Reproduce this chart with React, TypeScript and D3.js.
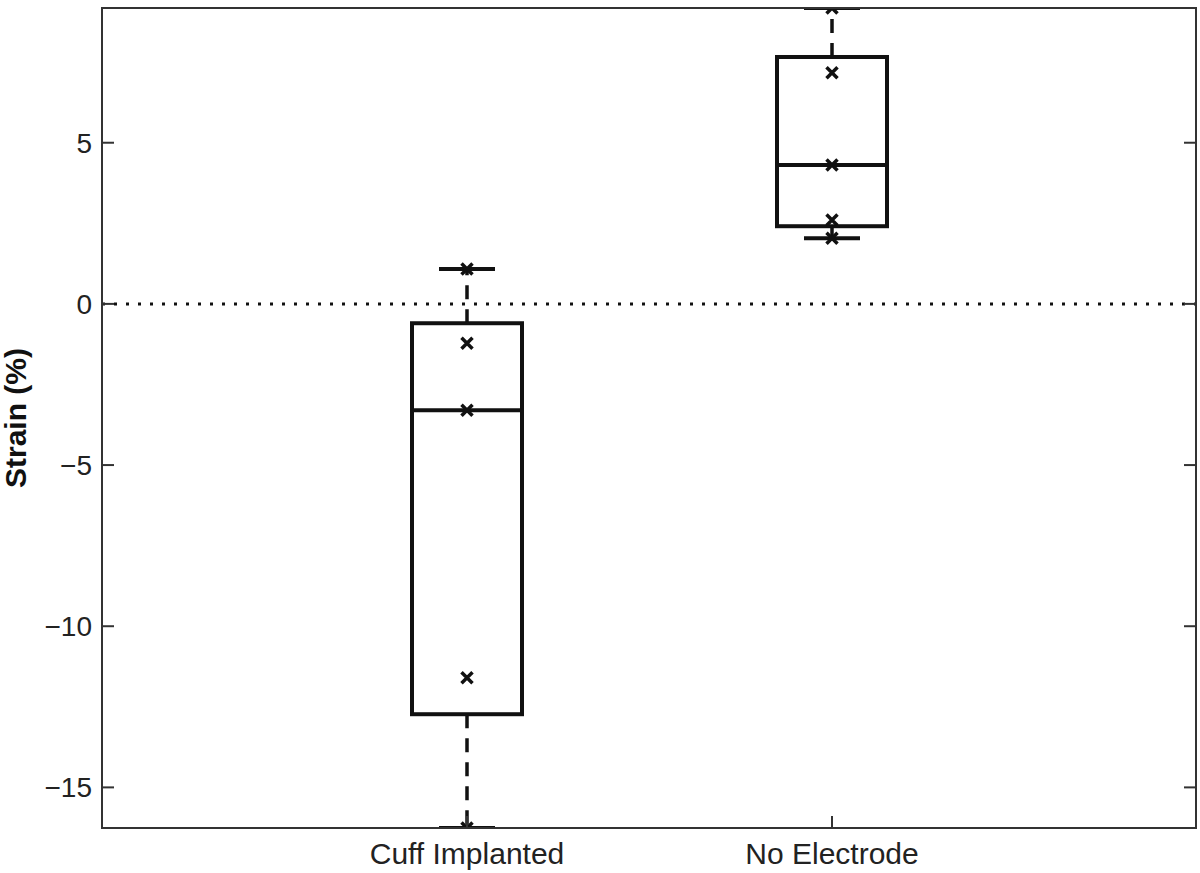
import React from "react";
import * as d3 from "d3";

const categories = ["Cuff Implanted", "No Electrode"];
const q1 = [-12.73, 2.41];
const medians = [-3.3, 4.31];
const q3 = [-0.6, 7.66];
const whiskerLow = [-16.26, 2.04];
const whiskerHigh = [1.08, 9.18];
const cuffPoints = [1.08, -1.22, -3.3, -11.6, -16.26];
const noElectrodePoints = [9.18, 7.17, 4.31, 2.6, 2.04];
const yTicks = [-15, -10, -5, 0, 5];

const W = 1200;
const H = 873;
const left = 102;
const right = 1196;
const top = 8;
const bottom = 828;

export default function App() {
  const y = d3.scaleLinear().domain([-16.26, 9.18]).range([bottom, top]);
  const pointsByCat = [cuffPoints, noElectrodePoints];
  const boxHalf = 55;
  const capHalf = 28;
  const font = "'Liberation Sans', Arial, sans-serif";
  const xPos = [467, 832];
  return (
    <svg width={W} height={H} style={{ position: "absolute", left: 0, top: 0, background: "#fff" }}>
      <defs>
        <clipPath id="plot">
          <rect x={left} y={top} width={right - left} height={bottom - top} />
        </clipPath>
      </defs>
      <line x1={left} x2={right} y1={y(0)} y2={y(0)} stroke="#111" strokeWidth={3} strokeDasharray="3,9" />
      <g clipPath="url(#plot)">
        {categories.map((c, i) => {
          const cx = xPos[i];
          return (
            <g key={c}>
              <line x1={cx} x2={cx} y1={y(q3[i])} y2={y(whiskerHigh[i])} stroke="#111" strokeWidth={3.5} strokeDasharray="14,10" />
              <line x1={cx} x2={cx} y1={y(q1[i])} y2={y(whiskerLow[i])} stroke="#111" strokeWidth={3.5} strokeDasharray="14,10" />
              <line x1={cx - capHalf} x2={cx + capHalf} y1={y(whiskerHigh[i])} y2={y(whiskerHigh[i])} stroke="#111" strokeWidth={4} />
              <line x1={cx - capHalf} x2={cx + capHalf} y1={y(whiskerLow[i])} y2={y(whiskerLow[i])} stroke="#111" strokeWidth={4} />
              <rect x={cx - boxHalf} y={y(q3[i])} width={boxHalf * 2} height={y(q1[i]) - y(q3[i])} fill="none" stroke="#111" strokeWidth={4} />
              <line x1={cx - boxHalf} x2={cx + boxHalf} y1={y(medians[i])} y2={y(medians[i])} stroke="#111" strokeWidth={4} />
              {pointsByCat[i].map((v, j) => (
                <path key={j} d={`M${cx - 5.5},${y(v) - 5.5}L${cx + 5.5},${y(v) + 5.5}M${cx - 5.5},${y(v) + 5.5}L${cx + 5.5},${y(v) - 5.5}`} stroke="#111" strokeWidth={3.5} />
              ))}
            </g>
          );
        })}
      </g>
      <rect x={left} y={top} width={right - left} height={bottom - top} fill="none" stroke="#333" strokeWidth={2} />
      {yTicks.map((t) => (
        <g key={t}>
          <line x1={left} x2={left + 12} y1={y(t)} y2={y(t)} stroke="#333" strokeWidth={2} />
          <line x1={right} x2={right - 12} y1={y(t)} y2={y(t)} stroke="#333" strokeWidth={2} />
          <text x={92} y={y(t)} dy="0.36em" textAnchor="end" fontFamily={font} fontSize={28} fill="#222">
            {t < 0 ? `\u2212${Math.abs(t)}` : t}
          </text>
        </g>
      ))}
      {categories.map((c, i) => (
        <g key={c}>
          <line x1={xPos[i]} x2={xPos[i]} y1={bottom} y2={bottom - 12} stroke="#333" strokeWidth={2} />
          <text x={xPos[i]} y={864} textAnchor="middle" fontFamily={font} fontSize={30} fill="#222">
            {c}
          </text>
        </g>
      ))}
      <text transform={`translate(26,${(top + bottom) / 2}) rotate(-90)`} textAnchor="middle" fontFamily={font} fontSize={30} fontWeight="bold" fill="#111">
        Strain (%)
      </text>
    </svg>
  );
}
